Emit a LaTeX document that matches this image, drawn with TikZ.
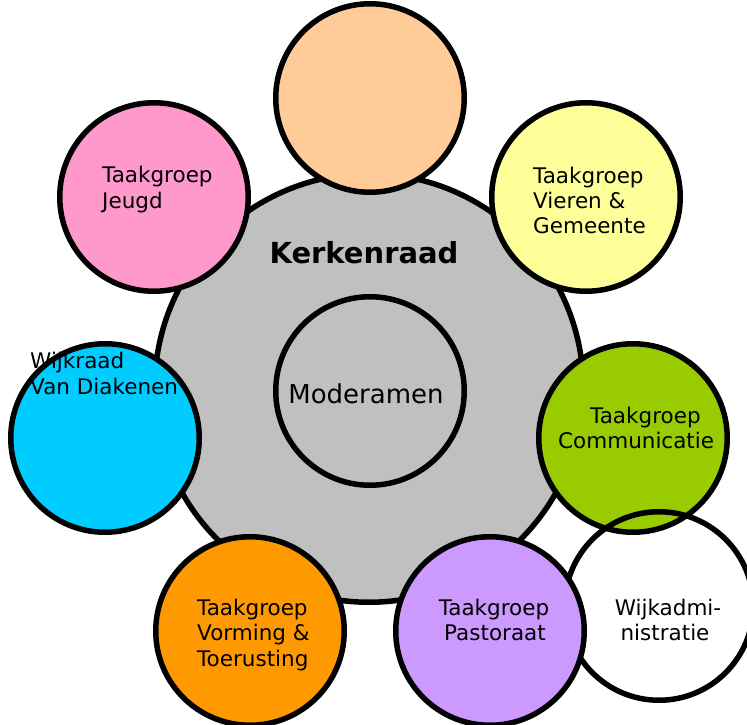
\documentclass[tikz,border=0pt]{standalone}
\usepackage{fontspec}
\setmainfont{DejaVu Sans}
\definecolor{krgray}{HTML}{C0C0C0}
\definecolor{cpeach}{HTML}{FFCC99}
\definecolor{cpink}{HTML}{FF99CC}
\definecolor{cyellow}{HTML}{FFFF99}
\definecolor{cgreen}{HTML}{99CC00}
\definecolor{ccyan}{HTML}{00CCFF}
\definecolor{corange}{HTML}{FF9900}
\definecolor{cpurple}{HTML}{CC99FF}
\begin{document}
\begin{tikzpicture}[x=1pt,y=-1pt,
  bub/.style={circle, draw=black, line width=5.5pt, minimum size=188.5pt, inner sep=0pt},
  lbl/.style={anchor=base west, inner sep=0pt, font=\fontsize{21.5}{25}\selectfont, text=black},
  clbl/.style={lbl, anchor=base},
]
\useasboundingbox (0,0) rectangle (747,725);
\clip (0,0) rectangle (747,725);
\node[bub, fill=krgray, minimum size=428.5pt] (kr) at (369,388) {};
\node[bub] (mod) at (370,391) {};
\node[bub, fill=cpeach] (top) at (370,98) {};
\node[bub, fill=cpink] (jeugd) at (154,197) {};
\node[bub, fill=cyellow] (vieren) at (586,197) {};
\node[bub, fill=cgreen] (comm) at (633,438) {};
\node[bub] (wijkadm) at (659,606) {};
\node[bub, fill=ccyan] (diak) at (105,438) {};
\node[bub, fill=corange] (vorming) at (250,631) {};
\node[bub, fill=cpurple] (past) at (490,631) {};

\node[clbl, font=\bfseries\fontsize{29}{33}\selectfont] (krlbl) at (364,263) {Kerkenraad};
\node[clbl, font=\fontsize{26}{30}\selectfont] (modlbl) at (366,403) {Moderamen};

\node[lbl] (j1) at (102,182) {Taakgroep};
\node[lbl] (j2) at (102,208) {Jeugd};

\node[lbl] (v1) at (533,183) {Taakgroep};
\node[lbl] (v2) at (533,208) {Vieren \&};
\node[lbl] (v3) at (533,233) {Gemeente};

\node[lbl] (c1) at (590,423) {Taakgroep};
\node[lbl] (c2) at (558,448) {Communicatie};

\node[lbl] (d1) at (30,368) {Wijkraad};
\node[lbl] (d2) at (30,394) {Van Diakenen};

\node[lbl] (o1) at (197,615) {Taakgroep};
\node[lbl] (o2) at (197,640) {Vorming \&};
\node[lbl] (o3) at (197,666) {Toerusting};

\node[clbl] (p1) at (494,615) {Taakgroep};
\node[clbl] (p2) at (495,640) {Pastoraat};

\node[clbl] (w1) at (668,615) {Wijkadmi-};
\node[clbl] (w2) at (665,640) {nistratie};
\end{tikzpicture}
\end{document}
